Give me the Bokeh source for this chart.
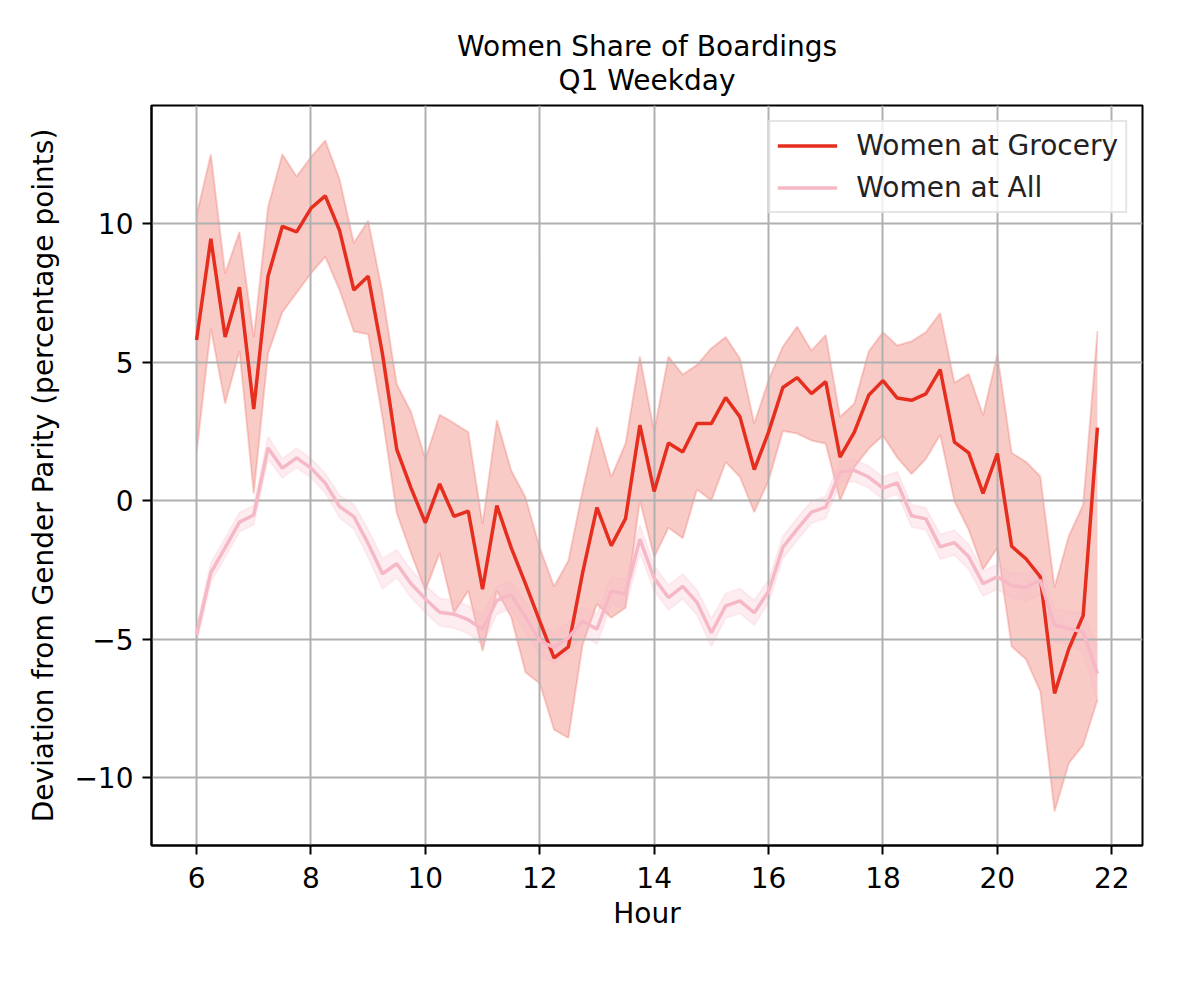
from bokeh.plotting import figure
from bokeh.models import Range1d, FixedTicker, Legend, LegendItem, Title, CustomJSTickFormatter
from bokeh.embed import file_html
from bokeh.resources import INLINE

hours = [6.0, 6.25, 6.5, 6.75, 7.0, 7.25, 7.5, 7.75, 8.0, 8.25, 8.5, 8.75,
         9.0, 9.25, 9.5, 9.75, 10.0, 10.25, 10.5, 10.75, 11.0, 11.25, 11.5, 11.75,
         12.0, 12.25, 12.5, 12.75, 13.0, 13.25, 13.5, 13.75, 14.0, 14.25, 14.5, 14.75,
         15.0, 15.25, 15.5, 15.75, 16.0, 16.25, 16.5, 16.75, 17.0, 17.25, 17.5, 17.75,
         18.0, 18.25, 18.5, 18.75, 19.0, 19.25, 19.5, 19.75, 20.0, 20.25, 20.5, 20.75,
         21.0, 21.25, 21.5, 21.75]

grocery_mean = [5.8, 9.45, 5.9, 7.7, 3.3, 8.1, 9.9, 9.7, 10.55, 11.0, 9.75, 7.6,
                8.1, 5.3, 1.85, 0.45, -0.8, 0.6, -0.57, -0.38, -3.2, -0.18, -1.7, -3.0,
                -4.35, -5.68, -5.28, -2.6, -0.25, -1.63, -0.65, 2.72, 0.33, 2.08, 1.75, 2.78,
                2.78, 3.72, 3.02, 1.12, 2.47, 4.08, 4.44, 3.86, 4.29, 1.57, 2.47, 3.8,
                4.33, 3.7, 3.62, 3.85, 4.73, 2.11, 1.72, 0.26, 1.70, -1.65, -2.1, -2.75,
                -6.96, -5.35, -4.15, 2.63]

grocery_upper = [10.3, 12.5, 8.2, 9.7, 5.9, 10.6, 12.5, 11.7, 12.4, 13.0, 11.6, 9.3,
                 10.1, 7.5, 4.2, 3.2, 1.5, 3.1, 2.8, 2.47, -0.84, 2.9, 1.09, 0.12,
                 -1.7, -3.1, -2.17, 0.36, 2.65, 0.85, 2.06, 5.2, 2.5, 5.2, 4.55, 4.9,
                 5.5, 5.9, 5.13, 2.78, 4.35, 5.56, 6.28, 5.41, 5.98, 3.02, 3.5, 5.38,
                 6.08, 5.6, 5.75, 6.08, 6.77, 4.25, 4.57, 3.08, 5.28, 1.72, 1.4, 0.88,
                 -3.13, -1.27, -0.15, 6.12]

grocery_lower = [1.7, 6.2, 3.5, 5.4, 0.25, 5.3, 6.8, 7.5, 8.2, 8.8, 7.6, 6.1,
                 6.0, 3.0, -0.45, -1.9, -3.25, -1.9, -4.05, -3.26, -5.43, -3.26, -4.2, -6.2,
                 -6.6, -8.27, -8.57, -5.2, -3.74, -4.23, -3.87, 0.0, -2.05, -0.98, -1.36, 0.4,
                 0.0, 1.39, 0.85, -0.42, 0.72, 2.51, 2.42, 2.17, 2.05, 0.0, 1.21, 1.87,
                 2.35, 1.55, 0.96, 1.5, 2.37, -0.03, -1.06, -2.49, -1.71, -5.27, -5.73, -6.89,
                 -11.22, -9.48, -8.83, -7.2]

all_mean = [-4.85, -2.6, -1.7, -0.78, -0.52, 1.9, 1.17, 1.54, 1.17, 0.63, -0.22, -0.58,
            -1.55, -2.64, -2.28, -3.0, -3.55, -4.03, -4.1, -4.3, -4.65, -3.6, -3.4, -4.2,
            -5.07, -5.3, -4.95, -4.35, -4.64, -3.26, -3.37, -1.39, -2.8, -3.5, -3.1, -3.68,
            -4.77, -3.8, -3.62, -4.05, -3.28, -1.69, -1.03, -0.42, -0.24, 1.03, 1.09, 0.85,
            0.45, 0.64, -0.55, -0.66, -1.67, -1.52, -2.03, -3.0, -2.75, -3.07, -3.13, -2.88,
            -4.49, -4.62, -4.75, -6.24]

all_err = [0.3, 0.35, 0.35, 0.35, 0.35, 0.4, 0.35, 0.35, 0.35, 0.35, 0.4, 0.45,
           0.5, 0.55, 0.5, 0.5, 0.5, 0.5, 0.5, 0.5, 0.55, 0.5, 0.5, 0.55,
           0.55, 0.55, 0.55, 0.5, 0.55, 0.5, 0.5, 0.5, 0.45, 0.45, 0.45, 0.45,
           0.5, 0.45, 0.45, 0.45, 0.4, 0.4, 0.4, 0.4, 0.4, 0.4, 0.4, 0.4,
           0.4, 0.4, 0.4, 0.4, 0.45, 0.45, 0.45, 0.45, 0.45, 0.45, 0.5, 0.5,
           0.6, 0.6, 0.7, 1.0]

all_upper = [m + e for m, e in zip(all_mean, all_err)]
all_lower = [m - e for m, e in zip(all_mean, all_err)]

x_ticks = [6, 8, 10, 12, 14, 16, 18, 20, 22]
y_ticks = [-10, -5, 0, 5, 10]

title_lines = ["Women Share of Boardings", "Q1 Weekday"]

RED = "#e62e1f"
PINK = "#f7b8c6"
FONT = "DejaVu Sans"
FS = "28px"

p = figure(width=1196, height=960, output_backend="svg", toolbar_location=None,
           title=None,
           x_range=Range1d(5.2125, 22.5375), y_range=Range1d(-12.45, 14.26),
           min_border_left=151, min_border_right=54, min_border_top=105,
           min_border_bottom=115)
p.background_fill_color = "white"
p.border_fill_color = "white"
p.outline_line_color = "black"
p.outline_line_width = 2
p.outline_line_alpha = 1

# bands
p.varea(x=hours, y1=grocery_lower, y2=grocery_upper, fill_color=RED, fill_alpha=0.25, level="image")
p.line(hours, grocery_upper, line_color=RED, line_alpha=0.2, line_width=2, level="image")
p.line(hours, grocery_lower, line_color=RED, line_alpha=0.2, line_width=2, level="image")
p.varea(x=hours, y1=all_lower, y2=all_upper, fill_color=PINK, fill_alpha=0.25, level="image")
p.line(hours, all_upper, line_color=PINK, line_alpha=0.2, line_width=2, level="image")
p.line(hours, all_lower, line_color=PINK, line_alpha=0.2, line_width=2, level="image")

r_groc = p.line(hours, grocery_mean, line_color=RED, line_width=3.5)
r_all = p.line(hours, all_mean, line_color=PINK, line_width=3.5)

# title (two lines)
p.add_layout(Title(text="\n".join(title_lines), align="center", text_align="center",
                   text_font=FONT, text_font_size=FS, text_line_height=1.02,
                   text_font_style="normal", text_color="black", standoff=17), "above")

# grid
p.grid.grid_line_color = "#b0b0b0"
p.grid.grid_line_width = 2
p.xgrid.ticker = FixedTicker(ticks=x_ticks)
p.ygrid.ticker = FixedTicker(ticks=y_ticks)

# axes
p.xaxis.ticker = FixedTicker(ticks=x_ticks)
p.yaxis.ticker = FixedTicker(ticks=y_ticks)
p.yaxis.formatter = CustomJSTickFormatter(code="return tick < 0 ? '\u2212' + Math.abs(tick) : String(tick);")
for ax in (p.xaxis, p.yaxis):
    ax.axis_line_color = "black"
    ax.axis_line_width = 2
    ax.major_tick_line_color = "black"
    ax.major_tick_line_width = 2
    ax.major_tick_out = 9
    ax.major_tick_in = 0
    ax.minor_tick_line_color = None
    ax.major_label_text_font = FONT
    ax.major_label_text_font_size = FS
    ax.major_label_text_color = "black"
    ax.axis_label_text_font = FONT
    ax.axis_label_text_font_size = FS
    ax.axis_label_text_font_style = "normal"
    ax.axis_label_text_color = "black"
p.xaxis.axis_label = "Hour"
p.yaxis.axis_label = "Deviation from Gender Parity (percentage points)"
p.xaxis.major_label_standoff = 12
p.yaxis.major_label_standoff = 9
p.xaxis.axis_label_standoff = 6
p.yaxis.axis_label_standoff = 11

legend = Legend(items=[LegendItem(label="Women at Grocery", renderers=[r_groc]),
                       LegendItem(label="Women at All", renderers=[r_all])],
                location="top_right")
legend.label_text_font = FONT
legend.label_text_font_size = FS
legend.label_text_color = "#222222"
legend.glyph_width = 60
legend.glyph_height = 33
legend.label_standoff = 19
legend.label_height = 33
legend.spacing = 9
legend.padding = 7
legend.margin = 15
legend.border_line_color = "#cccccc"
legend.border_line_width = 2
legend.background_fill_color = "white"
legend.background_fill_alpha = 0.8
p.add_layout(legend)

open("out.html", "w").write(file_html(p, INLINE))
